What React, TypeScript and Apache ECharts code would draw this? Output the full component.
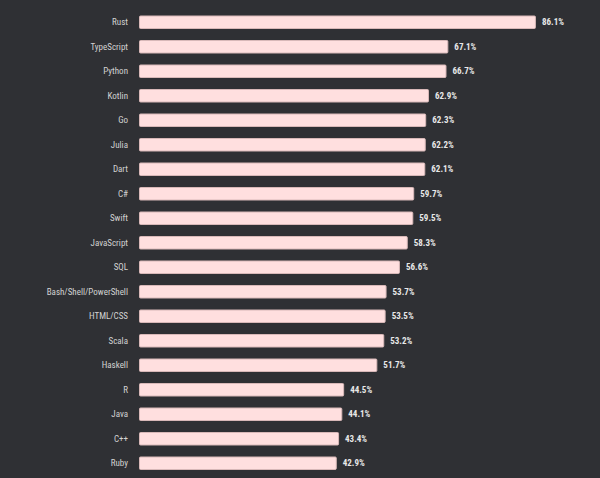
import React, { useEffect, useRef } from "react";
import * as echarts from "echarts";

const languages = [
  "Rust", "TypeScript", "Python", "Kotlin", "Go", "Julia", "Dart", "C#", "Swift",
  "JavaScript", "SQL", "Bash/Shell/PowerShell", "HTML/CSS", "Scala", "Haskell",
  "R", "Java", "C++", "Ruby",
];
const percents = [
  86.1, 67.1, 66.7, 62.9, 62.3, 62.2, 62.1, 59.7, 59.5,
  58.3, 56.6, 53.7, 53.5, 53.2, 51.7,
  44.5, 44.1, 43.4, 42.9,
];

const FONT = "'Liberation Sans Narrow', 'Roboto Condensed', 'Liberation Sans', sans-serif";

export default function App() {
  const ref = useRef<HTMLDivElement>(null);
  useEffect(() => {
    if (!ref.current) return;
    const chart = echarts.init(ref.current, null, { renderer: "svg" });
    chart.setOption({
      animation: false,
      backgroundColor: "#2f3034",
      grid: { left: 139, width: 462, top: 10, height: 465.5 },
      xAxis: {
        type: "value",
        min: 0,
        max: 100,
        show: false,
      },
      yAxis: {
        type: "category",
        inverse: true,
        data: languages,
        axisLine: { show: false },
        axisTick: { show: false },
        splitLine: { show: false },
        axisLabel: {
          color: "#d2d2d2",
          fontSize: 9,
          margin: 11,
          fontFamily: FONT,
        },
      },
      series: [
        {
          type: "bar",
          data: percents,
          barWidth: 13.5,
          itemStyle: {
            color: "#ffdfdf",
            borderColor: "#d8b8b8",
            borderWidth: 1,
            borderRadius: 1,
          },
          label: {
            show: true,
            position: "right",
            distance: 6,
            formatter: (p: any) => p.value.toFixed(1) + "%",
            color: "#e8e8e8",
            fontSize: 9,
            fontWeight: "bold",
            fontFamily: FONT,
          },
        },
      ],
    });
    return () => chart.dispose();
  }, []);
  return (
    <div
      ref={ref}
      style={{ position: "absolute", left: 0, top: 0, width: 600, height: 478 }}
    />
  );
}
